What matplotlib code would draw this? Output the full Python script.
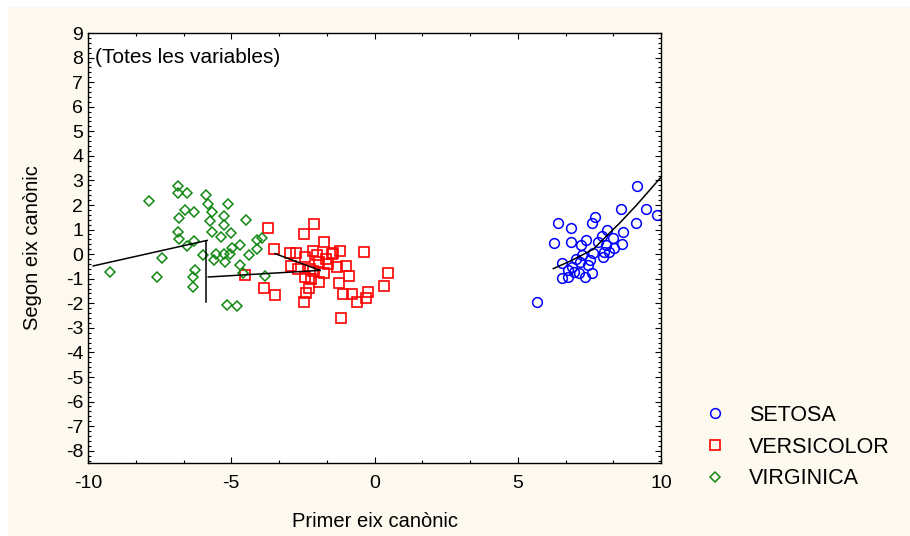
import matplotlib
matplotlib.use("Agg")
import matplotlib.pyplot as plt
from matplotlib.patches import Rectangle
from matplotlib.ticker import MultipleLocator

plt.rcParams['font.family'] = ['Liberation Sans', 'DejaVu Sans']
plt.rcParams['axes.unicode_minus'] = False

# canonical scores
setosa_x = [9.15, 8.59, 9.48, 9.85, 7.70, 7.58, 6.42, 6.86, 9.12, 8.10, 8.66, 6.25,
            6.86, 7.38, 7.22, 7.93, 8.32, 8.08, 8.64, 8.36, 8.01, 7.62, 7.23, 7.99,
            7.52, 7.17, 6.56, 6.88, 6.74, 6.96, 7.14, 7.58, 7.35, 6.56, 6.76, 5.68,
            7.80, 8.20, 7.45, 7.05]
setosa_y = [2.76, 1.85, 1.85, 1.60, 1.51, 1.25, 1.28, 1.05, 1.25, 0.98, 0.90, 0.45,
            0.51, 0.59, 0.36, 0.74, 0.67, 0.36, 0.41, 0.24, 0.09, 0.03, -0.05, -0.12,
            -0.24, -0.34, -0.37, -0.51, -0.64, -0.71, -0.78, -0.78, -0.91, -0.98, -0.95, -1.93,
            0.50, 0.10, -0.45, -0.20]

versicolor_x = [-2.10, -3.73, -2.46, -1.77, -3.52, -2.94, -2.75, -2.15, -1.46, -1.20, -0.37, -2.43,
                -1.95, -1.62, -1.30, -1.01, -2.66, -2.26, -1.75, -2.43, -0.89, 0.48, -1.94, -1.25,
                -4.51, -2.28, -3.85, 0.32, -2.39, -1.09, -0.77, -0.24, -3.48, -0.29, -0.61, -2.47,
                -1.17, -2.14, -2.00, -1.70, -2.90, -1.50, -2.20]
versicolor_y = [1.21, 1.05, 0.82, 0.49, 0.20, 0.06, 0.06, 0.12, 0.06, 0.12, 0.10, -0.10,
                -0.32, -0.42, -0.51, -0.48, -0.59, -0.59, -0.78, -0.94, -0.87, -0.78, -1.13, -1.17,
                -0.86, -1.36, -1.37, -1.30, -1.59, -1.62, -1.62, -1.56, -1.66, -1.79, -1.93, -1.93,
                -2.61, -0.69, -0.05, -0.20, -0.50, 0.00, -1.00]

virginica_x = [-6.87, -6.87, -6.54, -7.87, -5.89, -5.82, -5.12, -6.61, -6.29, -5.66, -6.82, -5.24,
               -5.74, -5.24, -4.47, -6.87, -5.68, -5.01, -6.82, -5.36, -6.29, -6.53, -4.11, -3.94,
               -4.71, -4.98, -4.11, -5.98, -5.52, -5.26, -5.05, -5.60, -5.21, -4.37, -7.43, -4.71,
               -9.22, -6.25, -6.32, -7.59, -4.59, -3.82, -6.34, -5.14, -4.80]
virginica_y = [2.79, 2.50, 2.50, 2.18, 2.40, 2.05, 2.05, 1.79, 1.71, 1.71, 1.48, 1.55,
               1.34, 1.18, 1.39, 0.91, 0.90, 0.87, 0.60, 0.70, 0.53, 0.33, 0.57, 0.64,
               0.39, 0.24, 0.20, -0.05, -0.01, -0.01, 0.02, -0.24, -0.32, -0.05, -0.14, -0.45,
               -0.71, -0.64, -0.93, -0.93, -0.78, -0.89, -1.32, -2.06, -2.12]

# black lines drawn over the clouds
line_a_x = [-9.82, -5.84]
line_a_y = [-0.48, 0.56]
line_b_x = [-5.89, -5.89]
line_b_y = [0.54, -1.93]
line_c_x = [-5.80, -1.90]
line_c_y = [-0.93, -0.66]
line_d_x = [-3.47, -1.90]
line_d_y = [0.02, -0.66]
line_s_x = [6.24, 6.82, 7.64, 8.10, 8.57, 9.15, 10.05]
line_s_y = [-0.59, -0.29, 0.20, 0.74, 1.28, 2.00, 3.20]

fig = plt.figure(figsize=(9.10, 5.36), dpi=100)
fig.patch.set_facecolor('white')
fig.patches.append(Rectangle((8 / 910, 0), 1, 1 - 7 / 536, transform=fig.transFigure,
                             facecolor='#FEF9EE', edgecolor='none', zorder=-10))

ax = fig.add_axes([88 / 910, 1 - 463 / 536, (661 - 88) / 910, (463 - 33) / 536])
ax.set_facecolor('white')

ax.plot(setosa_x, setosa_y, 'o', ms=7, mfc='none', mec='#0000FF', mew=1.1, label='SETOSA')
ax.plot(versicolor_x, versicolor_y, 's', ms=7, mfc='none', mec='#FF0000', mew=1.2, label='VERSICOLOR')
ax.plot(virginica_x, virginica_y, 'D', ms=4.6, mfc='none', mec='#118811', mew=1.1, label='VIRGINICA')

for lx, ly in [(line_a_x, line_a_y), (line_b_x, line_b_y), (line_c_x, line_c_y),
               (line_d_x, line_d_y), (line_s_x, line_s_y)]:
    ax.plot(lx, ly, color='black', lw=1.1)

ax.set_xlim(-10, 10)
ax.set_ylim(-8.5, 9)
ax.xaxis.set_major_locator(MultipleLocator(5))
ax.xaxis.set_minor_locator(MultipleLocator(5 / 3))
ax.yaxis.set_major_locator(MultipleLocator(1))
ax.yaxis.set_minor_locator(MultipleLocator(0.2))
ax.tick_params(which='both', direction='in', top=True, right=True, labelsize=14, width=0.8)
ax.tick_params(which='major', length=4)
ax.tick_params(which='minor', length=2.5)
ax.tick_params(axis='x', pad=9)
for s in ax.spines.values():
    s.set_linewidth(1.0)

ax.set_xlabel('Primer eix canònic', fontsize=14.5, labelpad=14)
ax.set_ylabel('Segon eix canònic', fontsize=14.5, labelpad=17)
ax.text(-9.75, 8.0, '(Totes les variables)', fontsize=15, va='center', ha='left')

ax.legend(loc='center left', bbox_to_anchor=(1.06, 0.037), frameon=False, fontsize=15.5,
          handlelength=1.0, handletextpad=1.1, labelspacing=0.5, borderaxespad=0)

fig.savefig('out.png', dpi=100)
